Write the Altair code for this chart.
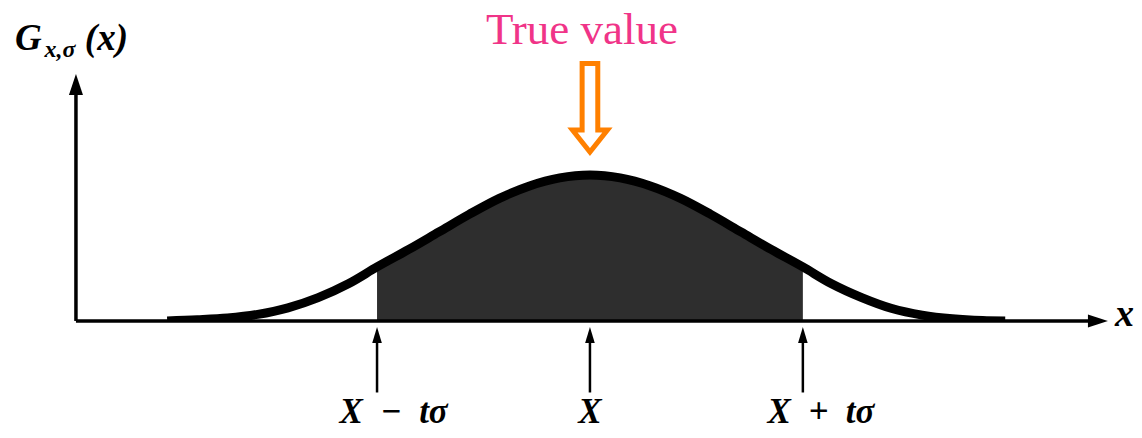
import altair as alt
import pandas as pd

# ---- data (x in units of sigma around X, y relative to the peak) ----
curve_u = [-2.8, -2.6, -2.4, -2.2, -2.0, -1.8, -1.6, -1.41, -1.2, -1.0, -0.8, -0.6, -0.4, -0.2, 0.0,
           0.2, 0.4, 0.6, 0.8, 1.0, 1.2, 1.41, 1.6, 1.8, 2.0, 2.2, 2.4, 2.6, 2.75]
curve_v = [0.0, 0.008, 0.02, 0.045, 0.09, 0.16, 0.255, 0.37, 0.49, 0.61, 0.73, 0.84, 0.925, 0.98, 1.0,
           0.98, 0.925, 0.84, 0.73, 0.61, 0.49, 0.37, 0.255, 0.16, 0.085, 0.04, 0.015, 0.003, 0.0]
t_sigma = 1.41
marker_u = [-t_sigma, 0.0, t_sigma]
marker_labels = ["X\u2002\u2212\u2002t\u03c3", "X", "X\u2002+\u2002t\u03c3"]
label_u = [-1.30, 0.0, 1.53]

SERIF = "Liberation Serif"

# ---- frame ----
W, H = 1126, 422
U_MIN, U_MAX = -3.854, 3.603
V_MIN, V_MAX = -0.747, 2.144
xs = alt.Scale(domain=[U_MIN, U_MAX], nice=False, zero=False)
ys = alt.Scale(domain=[V_MIN, V_MAX], nice=False, zero=False)

def X(f):
    return alt.X(f, type="quantitative", scale=xs, axis=None)

def Y(f):
    return alt.Y(f, type="quantitative", scale=ys, axis=None)

def txt(df, **kw):
    return alt.Chart(df).mark_text(font=SERIF, color=kw.pop("color", "black"), **kw)

curve = pd.DataFrame({"u": curve_u, "v": curve_v})

area = alt.Chart(curve).mark_area(color="#2e2e2e", interpolate="monotone").transform_filter(
    f"datum.u >= {-t_sigma} && datum.u <= {t_sigma}"
).encode(x=X("u"), y=Y("v"), y2=alt.datum(0))

line = alt.Chart(curve).mark_line(color="black", strokeWidth=9, interpolate="monotone", strokeCap="butt").encode(
    x=X("u"), y=Y("v"))

# white mask below the baseline so the thick curve tapers into the axis
mask = alt.Chart(pd.DataFrame({"a": [-3.3], "b": [3.3], "c": [0.0], "d": [-0.08]})).mark_rect(
    color="white").encode(x=X("a"), x2="b", y=Y("c"), y2="d")

YAX_U = -3.404
XAX_END = 3.364
axes_df = pd.DataFrame({
    "x0": [YAX_U, YAX_U],
    "x1": [YAX_U, XAX_END],
    "y0": [0.0, 0.0],
    "y1": [1.60, 0.0],
})
axes = alt.Chart(axes_df).mark_rule(color="black", strokeWidth=3.5).encode(
    x=X("x0"), x2="x1", y=Y("y0"), y2="y1")

yhead = alt.Chart(pd.DataFrame({"u": [YAX_U], "v": [1.62]})).mark_point(
    shape="M0,-1L0.667,1L-0.667,1Z", filled=True, color="black", opacity=1, size=441
).encode(x=X("u"), y=Y("v"))
xhead = alt.Chart(pd.DataFrame({"u": [XAX_END], "v": [0.0]})).mark_point(
    shape="M1,0L-1,-0.65L-1,0.65Z", filled=True, color="black", opacity=1, size=400
).encode(x=X("u"), y=Y("v"))

marks_df = pd.DataFrame({"u": marker_u, "v0": [-0.12] * 3, "v1": [-0.49] * 3, "vh": [-0.096] * 3})
mrules = alt.Chart(marks_df).mark_rule(color="black", strokeWidth=2.5).encode(
    x=X("u"), y=Y("v0"), y2="v1")
mheads = alt.Chart(marks_df).mark_point(
    shape="M0,-1L0.6,1L-0.6,1Z", filled=True, color="black", opacity=1, size=256
).encode(x=X("u"), y=Y("vh"))

labels = txt(pd.DataFrame({"u": label_u, "v": [-0.699] * 3, "n": marker_labels}),
             fontStyle="italic", fontWeight="bold", fontSize=35, align="center", baseline="alphabetic"
             ).encode(x=X("u"), y=Y("v"), text="n:N")

xlab = txt(pd.DataFrame({"u": [U_MAX], "v": [-0.034], "n": ["x"]}),
           fontStyle="italic", fontWeight="bold", fontSize=38, align="right", baseline="alphabetic"
           ).encode(x=X("u"), y=Y("v"), text="n:N")

g_main = txt(pd.DataFrame({"u": [-3.808], "v": [1.856], "n": ["G"]}),
             fontStyle="italic", fontWeight="bold", fontSize=37, align="left", baseline="alphabetic"
             ).encode(x=X("u"), y=Y("v"), text="n:N")
g_sub = txt(pd.DataFrame({"u": [-3.612], "v": [1.808], "n": ["x,\u03c3"]}),
            fontStyle="italic", fontWeight="bold", fontSize=24, align="left", baseline="alphabetic"
            ).encode(x=X("u"), y=Y("v"), text="n:N")
g_arg = txt(pd.DataFrame({"u": [-3.345], "v": [1.856], "n": ["(x)"]}),
            fontStyle="italic", fontWeight="bold", fontSize=37, align="left", baseline="alphabetic"
            ).encode(x=X("u"), y=Y("v"), text="n:N")

true_txt = txt(pd.DataFrame({"u": [-0.053], "v": [1.895], "n": ["True value"]}),
               fontSize=45, align="center", baseline="alphabetic", color="#F03488"
               ).encode(x=X("u"), y=Y("v"), text="n:N")

true_arrow = alt.Chart(pd.DataFrame({"u": [0.0], "v": [1.461]})).mark_point(
    shape="M-0.177,-1L0.177,-1L0.177,0.503L0.395,0.503L0,1L-0.395,0.503L-0.177,0.503Z",
    filled=False, color="#FF8000", opacity=1, size=7832, strokeWidth=5, strokeJoin="miter"
).encode(x=X("u"), y=Y("v"))

chart = alt.layer(
    area, line, mask, axes, yhead, xhead, mrules, mheads, true_arrow,
    labels, xlab, g_main, g_sub, g_arg, true_txt
).properties(
    width=W, height=H, autosize="none", padding=0, background="white"
).configure_view(stroke=None)

chart.save("out.html", embed_options={"renderer": "svg", "actions": False})
